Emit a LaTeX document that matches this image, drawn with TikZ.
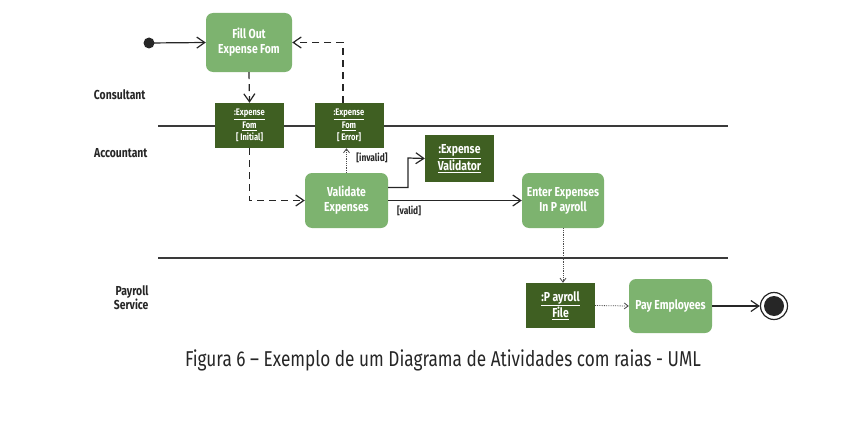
\documentclass[tikz,border=0pt]{standalone}
\usepackage{fontspec}
\setmainfont{Fira Sans}[FakeStretch=0.8]
\usetikzlibrary{arrows.meta}
\definecolor{actgreen}{HTML}{7DB36F}
\definecolor{objgreen}{HTML}{3F5F22}
\definecolor{laneline}{HTML}{3A3A3A}
\tikzset{
  action/.style={draw=none, fill=actgreen, rounded corners=7pt, text=white, font=\bfseries\fontsize{13}{15}\selectfont, align=center, minimum width=84pt, minimum height=56pt, inner sep=1pt},
  object/.style={draw=none, fill=objgreen, text=white, font=\bfseries\fontsize{9.5}{12.5}\selectfont, align=center, minimum width=69pt, minimum height=45pt, inner sep=1pt},
  lane/.style={font=\bfseries\fontsize{13}{15}\selectfont, text=black!85},
  guard/.style={font=\bfseries\fontsize{10.5}{12}\selectfont, text=black!85},
  flow/.style={-{Straight Barb[length=8pt,width=11pt]}, line width=1.2pt, draw=black!85},
  dflow/.style={flow, dash pattern=on 7pt off 5pt},
  oflow/.style={-{Straight Barb[length=4pt,width=6pt]}, line width=0.8pt, densely dotted, draw=black!70}
}
\begin{document}
\begin{tikzpicture}[x=1pt,y=-1pt]
\useasboundingbox (0,0) rectangle (866,428);
% swimlanes
\draw[laneline, line width=1.5pt] (158,126) -- (728,126);
\draw[laneline, line width=1.5pt] (158,258) -- (728,258);
\node[lane, anchor=east] (consultant) at (149,95) {Consultant};
\node[lane, anchor=east] (accountant) at (151,153) {Accountant};
\node[lane, anchor=east, align=right] (payroll) at (152,298) {Payroll\\[-1pt]Service};
% nodes
\fill[black!85] (149,43) circle (5.5) coordinate (start);
\node[action, minimum width=86pt, minimum height=59pt] (fill) at (249,42.5) {Fill Out\\Expense Fom};
\node[object] (initObj) at (249.5,125.5) {\underline{:Expense}\\\underline{Fom}\\{}[ Initial]};
\node[object] (errObj) at (349,125.5) {\underline{:Expense}\\\underline{Fom}\\{}[ Error]};
\node[action, minimum width=83pt, minimum height=55pt] (validate) at (346.5,200.5) {Validate\\Expenses};
\node[object, font=\bfseries\fontsize{13}{15}\selectfont, minimum height=47pt] (validator) at (459.5,158.5) {\underline{:Expense}\\\underline{Validator}};
\node[action, minimum width=82pt, minimum height=55pt] (enter) at (563,200.5) {Enter Expenses\\In P ayroll};
\node[object, font=\bfseries\fontsize{13}{15}\selectfont] (payFile) at (560.5,305.5) {\underline{:P ayroll}\\\underline{File}};
\node[action, minimum width=83pt, minimum height=54pt] (pay) at (670.5,306) {Pay Employees};
\node[circle, draw=black!85, line width=1.2pt, fill=white, minimum size=27pt, inner sep=0pt] (stop) at (774,306) {};
\fill[black!85] (stop) circle (10);
% flows
\draw[flow] (start) -- (fill.west);
\draw[dflow] (fill.south) -- (initObj.north);
\draw[dflow] (errObj.north -| 343,0) |- (fill.east);
\draw[dflow] (initObj.south) |- (validate.west);
\draw[oflow] (validate.north) -- (validate.north |- errObj.south);
\node[guard] (invalid) at (372,158) {[invalid]};
\draw[flow] ([yshift=13pt]validate.east) -| (408,158) -- (validator.west);
\draw[flow] (validate.east) -- (enter.west);
\node[guard] (valid) at (409,211) {[valid]};
\draw[oflow] (enter.south -| payFile.north) ++(2.5,0) -- ([xshift=2.5pt]payFile.north);
\draw[oflow] (payFile.east) -- (pay.west);
\draw[flow] (pay.east) -- (stop.west);
% caption
\node[font=\fontsize{21.5}{24}\selectfont, text=black!85] (caption) at (443,360) {Figura 6 – Exemplo de um Diagrama de Atividades com raias - UML};
\end{tikzpicture}
\end{document}
